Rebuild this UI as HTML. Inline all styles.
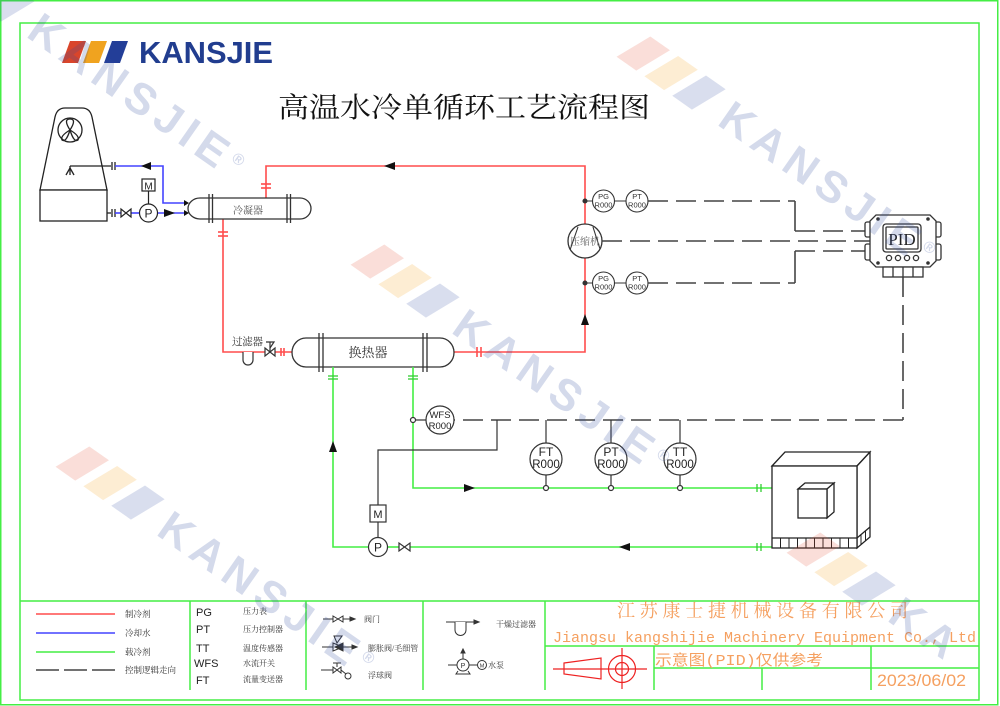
<!DOCTYPE html>
<html><head><meta charset="utf-8"><style>
html,body{margin:0;padding:0;background:#fff;width:1000px;height:706px;overflow:hidden;}
svg{display:block;overflow:hidden;}
</style></head><body>
<svg width="1000" height="706" viewBox="0 0 1000 706" xmlns="http://www.w3.org/2000/svg" overflow="hidden">
<defs><clipPath id="pg"><rect x="0" y="0" width="1000" height="706"/></clipPath></defs>
<rect width="1000" height="706" fill="#fff"/>
<g clip-path="url(#pg)">

<!-- borders -->
<rect x="0.75" y="0.75" width="997" height="704" fill="none" stroke="#44ee44" stroke-width="1.5"/>
<rect x="20" y="23" width="959" height="677" fill="none" stroke="#44ee44" stroke-width="1.5"/>
<g stroke="#44ee44" stroke-width="1.5" fill="none">
<line x1="20" y1="601" x2="979" y2="601"/>
<line x1="190" y1="601" x2="190" y2="690"/>
<line x1="306" y1="601" x2="306" y2="690"/>
<line x1="423" y1="601" x2="423" y2="690"/>
<line x1="545" y1="601" x2="545" y2="690"/>
<line x1="545" y1="646" x2="979" y2="646"/>
<line x1="654" y1="668" x2="979" y2="668"/>
<line x1="654" y1="646" x2="654" y2="690"/>
<line x1="762" y1="668" x2="762" y2="690"/>
<line x1="871" y1="646" x2="871" y2="690"/>
</g>

<!-- logo -->
<polygon points="70,41 86,41 78,63 62,63" fill="#d9452b"/>
<polygon points="91,41 107,41 99,63 83,63" fill="#f0a31f"/>
<polygon points="112,41 128,41 120,63 104,63" fill="#233e98"/>
<text x="139" y="63" font-family="Liberation Sans, sans-serif" font-weight="bold" font-size="31" fill="#213d8f" textLength="134" lengthAdjust="spacingAndGlyphs">KANSJIE</text>

<!-- title -->
<text x="278" y="117" font-family="Liberation Serif, 'Noto Serif CJK SC', serif" font-size="28" fill="#111" textLength="372" lengthAdjust="spacingAndGlyphs">高温水冷单循环工艺流程图</text>

<!-- cooling tower -->
<g stroke="#222" stroke-width="1.3" fill="none">
<path d="M40,190 L55,117 Q57,108 65,108 L82,108 Q90,108 92,117 L107,190 Z" fill="#fff"/>
<rect x="40" y="190" width="67" height="31" fill="#fff"/>
<circle cx="70" cy="130" r="12"/>
<path d="M70,130 Q63,119 70,119 Q77,119 70,130 Z"/>
<path d="M70,130 Q60,136 62,140 Q66,143 70,130 Z"/>
<path d="M70,130 Q80,136 78,140 Q74,143 70,130 Z"/>
<line x1="70" y1="166" x2="111" y2="166"/>
<line x1="70" y1="166" x2="70" y2="175"/>
<line x1="70" y1="168" x2="66" y2="175"/>
<line x1="70" y1="168" x2="74" y2="175"/>
<line x1="107" y1="213" x2="111" y2="213"/>
<line x1="112" y1="162" x2="112" y2="170"/>
<line x1="115" y1="162" x2="115" y2="170"/>
<line x1="112" y1="209" x2="112" y2="217"/>
<line x1="115" y1="209" x2="115" y2="217"/>
</g>

<!-- blue lines -->
<g stroke="#4444ff" stroke-width="1.6" fill="none">
<path d="M115,166 H163 V203 H186"/>
<path d="M115,213 H121"/>
<path d="M131,213 H139"/>
<path d="M157,213 H186"/>
</g>
<polygon points="141,166 151,162 151,170" fill="#111"/>
<polygon points="175,213 164,209 164,217" fill="#111"/>
<polygon points="189,203 184,200 184,206" fill="#111"/>
<polygon points="189,213 184,210 184,216" fill="#111"/>
<g stroke="#222" stroke-width="1.2" fill="none">
<polygon points="121,209 121,217 131,209 131,217"/>
<rect x="142" y="179" width="13" height="12" fill="#fff"/>
<line x1="148.5" y1="191" x2="148.5" y2="204"/>
<circle cx="148.5" cy="213" r="9" fill="#fff"/>
</g>
<text x="148.5" y="217.5" font-family="Liberation Sans, sans-serif" font-size="12" text-anchor="middle" fill="#222">P</text>
<text x="148.5" y="189.5" font-family="Liberation Sans, sans-serif" font-size="10" text-anchor="middle" fill="#222">M</text>

<!-- red lines -->
<g stroke="#ff4d4d" stroke-width="1.6" fill="none">
<path d="M266,198 V166 H585 V352 H454"/>
<path d="M223,219 V352 H292"/>
<line x1="261" y1="184" x2="271" y2="184"/>
<line x1="261" y1="188" x2="271" y2="188"/>
<line x1="218" y1="232" x2="228" y2="232"/>
<line x1="218" y1="236" x2="228" y2="236"/>
<line x1="477" y1="347" x2="477" y2="357"/>
<line x1="481" y1="347" x2="481" y2="357"/>
<line x1="281" y1="348" x2="281" y2="356"/>
<line x1="284" y1="348" x2="284" y2="356"/>
</g>
<polygon points="384,166 395,162 395,170" fill="#111"/>
<polygon points="585,314 581,325 589,325" fill="#111"/>

<!-- condenser -->
<g stroke="#333" stroke-width="1.3" fill="#fff">
<path d="M200,198 H300 A11,10.5 0 0 1 300,219 H200 A12,10.5 0 0 1 200,198 Z"/>
<line x1="209" y1="194" x2="209" y2="223"/>
<line x1="212.5" y1="194" x2="212.5" y2="223"/>
<line x1="287" y1="194" x2="287" y2="223"/>
<line x1="290.5" y1="194" x2="290.5" y2="223"/>
</g>
<text x="248" y="214" font-family="Liberation Serif, 'Noto Serif CJK SC', serif" font-size="10" text-anchor="middle" fill="#555">冷凝器</text>

<!-- heat exchanger -->
<g stroke="#333" stroke-width="1.3" fill="#fff">
<path d="M306,338 H440 A14,14.5 0 0 1 440,367 H306 A14,14.5 0 0 1 306,338 Z"/>
<line x1="319" y1="333" x2="319" y2="372"/>
<line x1="323" y1="333" x2="323" y2="372"/>
<line x1="423" y1="333" x2="423" y2="372"/>
<line x1="427" y1="333" x2="427" y2="372"/>
</g>
<text x="368" y="357" font-family="Liberation Serif, 'Noto Serif CJK SC', serif" font-size="13" text-anchor="middle" fill="#333">换热器</text>

<!-- filter & valve -->
<g stroke="#333" stroke-width="1.2" fill="#fff">
<path d="M243,352 V360 A5,5 0 0 0 253,360 V352"/>
<polygon points="265,348 265,356 275,348 275,356"/>
<line x1="270" y1="352" x2="270" y2="342"/>
<path d="M266,342 L274,342 L270,348" fill="none"/>
</g>
<text x="232" y="345" font-family="Liberation Serif, 'Noto Serif CJK SC', serif" font-size="10.5" fill="#333" textLength="31">过滤器</text>

<!-- compressor -->
<circle cx="585" cy="241" r="17" fill="#fff" stroke="#333" stroke-width="1.3"/>
<line x1="570" y1="250" x2="578" y2="227" stroke="#333" stroke-width="1.1"/>
<line x1="593" y1="227" x2="600" y2="249" stroke="#333" stroke-width="1.1"/>
<text x="585" y="245" font-family="Liberation Serif, 'Noto Serif CJK SC', serif" font-size="10" text-anchor="middle" fill="#666">压缩机</text>

<!-- PG/PT at compressor -->
<g stroke="#333" stroke-width="1.1" fill="#fff">
<line x1="585" y1="201" x2="626" y2="201"/>
<line x1="585" y1="283" x2="626" y2="283"/>
<circle cx="585" cy="201" r="2" fill="#333"/>
<circle cx="585" cy="283" r="2" fill="#333"/>
<circle cx="603.5" cy="201" r="11"/>
<circle cx="637" cy="201" r="11"/>
<circle cx="603.5" cy="283" r="11"/>
<circle cx="637" cy="283" r="11"/>
</g>
<g font-family="Liberation Sans, sans-serif" font-size="7.5" text-anchor="middle" fill="#333">
<text x="603.5" y="199">PG</text><text x="603.5" y="207.5">R000</text>
<text x="637" y="199">PT</text><text x="637" y="207.5">R000</text>
<text x="603.5" y="281">PG</text><text x="603.5" y="289.5">R000</text>
<text x="637" y="281">PT</text><text x="637" y="289.5">R000</text>
</g>

<!-- dashed control lines -->
<g stroke="#444" stroke-width="1.6" fill="none" stroke-dasharray="20 8">
<path d="M648,201 H795"/>
<path d="M795,231 H870"/>
<path d="M602,241 H870"/>
<path d="M648,283 H795"/>
<path d="M795,251 H870"/>
<path d="M903,277 V420"/>
<path d="M903,420 H454"/>
</g>
<g stroke="#444" stroke-width="1.6" fill="none">
<line x1="795" y1="201" x2="795" y2="231"/>
<line x1="795" y1="283" x2="795" y2="251"/>
</g>

<!-- PID controller -->
<g stroke="#333" stroke-width="1.3" fill="#fff">
<rect x="865" y="222" width="6" height="15" rx="2"/>
<rect x="865" y="244" width="6" height="16" rx="2"/>
<rect x="935" y="222" width="6" height="15" rx="2"/>
<rect x="935" y="244" width="6" height="16" rx="2"/>
<polygon points="876,215 930,215 936,221 936,261 930,267 876,267 870,261 870,221"/>
<rect x="883" y="224" width="38" height="28" rx="3"/>
<rect x="886" y="227" width="32" height="22" rx="1" fill="none"/>
<rect x="883" y="267" width="40" height="10"/>
<line x1="893" y1="267" x2="893" y2="277"/>
<line x1="903" y1="267" x2="903" y2="277"/>
<line x1="913" y1="267" x2="913" y2="277"/>
<circle cx="889" cy="258" r="2.6"/>
<circle cx="898" cy="258" r="2.6"/>
<circle cx="907" cy="258" r="2.6"/>
<circle cx="916" cy="258" r="2.6"/>
</g>
<g fill="#333">
<circle cx="878" cy="219" r="1.8"/><circle cx="928" cy="219" r="1.8"/>
<circle cx="878" cy="263" r="1.8"/><circle cx="928" cy="263" r="1.8"/>
</g>
<text x="902" y="245" font-family="Liberation Serif, serif" font-size="17" text-anchor="middle" fill="#222">PID</text>

<!-- green lines -->
<g stroke="#44ee44" stroke-width="1.6" fill="none">
<path d="M333,367 V547 H368"/>
<path d="M388,547 H399"/>
<path d="M410,547 H772"/>
<path d="M413,367 V488 H772"/>
</g>
<g stroke="#33cc33" stroke-width="1.3">
<line x1="328" y1="376" x2="338" y2="376"/><line x1="328" y1="379" x2="338" y2="379"/>
<line x1="408" y1="376" x2="418" y2="376"/><line x1="408" y1="379" x2="418" y2="379"/>
<line x1="757" y1="484" x2="757" y2="492"/><line x1="761" y1="484" x2="761" y2="492"/>
<line x1="757" y1="543" x2="757" y2="551"/><line x1="761" y1="543" x2="761" y2="551"/>
</g>
<polygon points="333,441 329,452 337,452" fill="#111"/>
<polygon points="475,488 464,484 464,492" fill="#111"/>
<polygon points="619,547 630,543 630,551" fill="#111"/>

<!-- bottom instruments -->
<g stroke="#333" stroke-width="1.2" fill="#fff">
<line x1="413" y1="420" x2="426" y2="420"/>
<circle cx="413" cy="420" r="2.5"/>
<circle cx="440" cy="420" r="14"/>
<path d="M378,505 V450 H497 V420" fill="none"/>
<line x1="546" y1="420" x2="546" y2="443"/>
<line x1="611" y1="420" x2="611" y2="443"/>
<line x1="680" y1="420" x2="680" y2="443"/>
<line x1="546" y1="475" x2="546" y2="486"/>
<line x1="611" y1="475" x2="611" y2="486"/>
<line x1="680" y1="475" x2="680" y2="486"/>
<circle cx="546" cy="459" r="16"/>
<circle cx="611" cy="459" r="16"/>
<circle cx="680" cy="459" r="16"/>
<circle cx="546" cy="488" r="2.5"/>
<circle cx="611" cy="488" r="2.5"/>
<circle cx="680" cy="488" r="2.5"/>
<rect x="370" y="505" width="16" height="17"/>
<line x1="378" y1="522" x2="378" y2="537"/>
<circle cx="378" cy="547" r="9.5"/>
<polygon points="399,543 399,551 410,543 410,551"/>
</g>
<g font-family="Liberation Sans, sans-serif" text-anchor="middle" fill="#222">
<text x="440" y="418" font-size="9.5">WFS</text><text x="440" y="429" font-size="9.5">R000</text>
<text x="546" y="456" font-size="12">FT</text><text x="546" y="468" font-size="11.5">R000</text>
<text x="611" y="456" font-size="12">PT</text><text x="611" y="468" font-size="11.5">R000</text>
<text x="680" y="456" font-size="12">TT</text><text x="680" y="468" font-size="11.5">R000</text>
<text x="378" y="518" font-size="11">M</text>
<text x="378" y="551.5" font-size="12">P</text>
</g>

<!-- load box -->
<g stroke="#222" stroke-width="1.3" fill="#fff">
<polygon points="772,466 785,452 870,452 857,466"/>
<polygon points="857,466 870,452 870,537 857,548"/>
<rect x="772" y="466" width="85" height="82"/>
<line x1="772" y1="538" x2="857" y2="538"/>
<line x1="857" y1="538" x2="870" y2="527"/>
<polygon points="798,489 805,483 834,483 827,489"/>
<polygon points="827,489 834,483 834,512 827,518"/>
<rect x="798" y="489" width="29" height="29"/>
</g>
<g stroke="#222" stroke-width="1">
<line x1="780.5" y1="538" x2="780.5" y2="548"/><line x1="789" y1="538" x2="789" y2="548"/>
<line x1="797.5" y1="538" x2="797.5" y2="548"/><line x1="806" y1="538" x2="806" y2="548"/>
<line x1="814.5" y1="538" x2="814.5" y2="548"/><line x1="823" y1="538" x2="823" y2="548"/>
<line x1="831.5" y1="538" x2="831.5" y2="548"/><line x1="840" y1="538" x2="840" y2="548"/>
<line x1="848.5" y1="538" x2="848.5" y2="548"/>
<line x1="861" y1="534.5" x2="861" y2="544.5"/><line x1="865.5" y1="531" x2="865.5" y2="541"/>
</g>

<!-- legend col 1 -->
<line x1="36" y1="614" x2="115" y2="614" stroke="#ff4d4d" stroke-width="1.6"/>
<line x1="36" y1="633" x2="115" y2="633" stroke="#4444ff" stroke-width="1.6"/>
<line x1="36" y1="652" x2="115" y2="652" stroke="#44ee44" stroke-width="1.6"/>
<g stroke="#444" stroke-width="1.6"><line x1="36" y1="670" x2="59" y2="670"/><line x1="64" y1="670" x2="87" y2="670"/><line x1="92" y1="670" x2="115" y2="670"/></g>
<g font-family="Liberation Serif, 'Noto Serif CJK SC', serif" font-size="8.5" fill="#333">
<text x="125" y="617">制冷剂</text>
<text x="125" y="636">冷却水</text>
<text x="125" y="655">载冷剂</text>
<text x="125" y="673">控制逻辑走向</text>
</g>
<!-- legend col 2 -->
<g font-family="Liberation Sans, sans-serif" font-size="11" fill="#222">
<text x="196" y="616">PG</text>
<text x="196" y="633">PT</text>
<text x="196" y="652">TT</text>
<text x="194" y="667">WFS</text>
<text x="196" y="684">FT</text>
</g>
<g font-family="Liberation Serif, 'Noto Serif CJK SC', serif" font-size="8" fill="#333">
<text x="243" y="614">压力表</text>
<text x="243" y="632">压力控制器</text>
<text x="243" y="651">温度传感器</text>
<text x="243" y="666">水流开关</text>
<text x="243" y="682">流量变送器</text>
</g>
<!-- legend col 3 -->
<g stroke="#333" stroke-width="1" fill="#fff">
<line x1="323" y1="619" x2="352" y2="619"/>
<polygon points="333,616 333,622 343,616 343,622"/>
<polygon points="355,619 350,617 350,621" fill="#333"/>
<line x1="322" y1="647" x2="354" y2="647"/>
<polygon points="333,643 333,651 343,647"/>
<polygon points="343,643 343,651 335,647" fill="#333"/>
<path d="M337,643 L342,636 L334,636 Z"/>
<polygon points="357,647 352,645 352,649" fill="#333"/>
<line x1="321" y1="670" x2="333" y2="670"/>
<polygon points="333,667 333,673 341,667 341,673"/>
<line x1="337" y1="667" x2="337" y2="663"/>
<line x1="333" y1="663" x2="341" y2="663"/>
<line x1="341" y1="670" x2="346" y2="674"/>
<circle cx="348" cy="676" r="3"/>
</g>
<g font-family="Liberation Serif, 'Noto Serif CJK SC', serif" font-size="8" fill="#333">
<text x="364" y="622">阀门</text>
<text x="368" y="651">膨胀阀/毛细管</text>
<text x="368" y="678">浮球阀</text>
</g>
<!-- legend col 4 -->
<g stroke="#333" stroke-width="1" fill="#fff">
<line x1="446" y1="622" x2="476" y2="622"/>
<path d="M455,622 V630 A5.5,5.5 0 0 0 466,630 V622"/>
<polygon points="479,622 474,620 474,624" fill="#333"/>
<line x1="448" y1="665" x2="457" y2="665"/>
<circle cx="463" cy="665" r="6"/>
<path d="M458,671 L456,674 H470 L468,671" fill="none"/>
<line x1="463" y1="659" x2="463" y2="652"/>
<polygon points="463,649 461,653 465,653" fill="#333"/>
<line x1="469" y1="665" x2="478" y2="665"/>
<circle cx="482" cy="665" r="4.5"/>
</g>
<text x="463" y="668" font-family="Liberation Sans, sans-serif" font-size="7" text-anchor="middle" fill="#333">P</text>
<text x="482" y="667.5" font-family="Liberation Sans, sans-serif" font-size="5.5" text-anchor="middle" fill="#333">M</text>
<g font-family="Liberation Serif, 'Noto Serif CJK SC', serif" font-size="8" fill="#333">
<text x="496" y="627">干燥过滤器</text>
<text x="488" y="668">水泵</text>
</g>

<!-- title block -->
<text x="617" y="617" font-family="Liberation Serif, 'Noto Serif CJK SC', serif" font-size="18" fill="#f5a060" textLength="291" lengthAdjust="spacing">江苏康士捷机械设备有限公司</text>
<text x="553" y="642" font-family="Liberation Mono, monospace" font-size="15" fill="#f5a060" textLength="423" lengthAdjust="spacingAndGlyphs">Jiangsu kangshijie Machinery Equipment Co., Ltd</text>
<text x="655" y="665" font-family="Liberation Mono, 'Noto Sans CJK SC', monospace" font-size="15" fill="#f5a060" textLength="168" lengthAdjust="spacingAndGlyphs">示意图(PID)仅供参考</text>
<text x="877" y="686" font-family="Liberation Sans, sans-serif" font-size="17" fill="#f5a060" textLength="89" lengthAdjust="spacingAndGlyphs">2023/06/02</text>
<g stroke="#ee2222" stroke-width="1.2" fill="none">
<line x1="553" y1="669" x2="608" y2="669"/>
<path d="M564,663 L601,658 L601,679 L564,674 Z"/>
<circle cx="622" cy="669" r="13.5"/>
<circle cx="622" cy="669" r="6.5"/>
<line x1="622" y1="648" x2="622" y2="689"/>
<line x1="608" y1="669" x2="647" y2="669"/>
</g>

<!-- watermarks -->
<g font-family="Liberation Sans, sans-serif" font-weight="bold">
<g transform="translate(25,36) rotate(35)">
<polygon points="-120,2 -96,2 -80,-34 -104,-34" fill="#e24a2a" opacity="0.18"/>
<polygon points="-86,2 -62,2 -46,-34 -70,-34" fill="#f5a623" opacity="0.2"/>
<polygon points="-52,2 -28,2 -12,-34 -36,-34" fill="#2f4a9e" opacity="0.18"/>
<text x="0" y="0" font-size="44" letter-spacing="7" fill="#2f4a9e" opacity="0.2">KANSJIE<tspan font-size="16" dy="-16">®</tspan></text>
</g>
<g transform="translate(716,124) rotate(35)">
<polygon points="-120,2 -96,2 -80,-34 -104,-34" fill="#e24a2a" opacity="0.18"/>
<polygon points="-86,2 -62,2 -46,-34 -70,-34" fill="#f5a623" opacity="0.2"/>
<polygon points="-52,2 -28,2 -12,-34 -36,-34" fill="#2f4a9e" opacity="0.18"/>
<text x="0" y="0" font-size="44" letter-spacing="7" fill="#2f4a9e" opacity="0.2">KANSJIE<tspan font-size="16" dy="-16">®</tspan></text>
</g>
<g transform="translate(450,332) rotate(35)">
<polygon points="-120,2 -96,2 -80,-34 -104,-34" fill="#e24a2a" opacity="0.18"/>
<polygon points="-86,2 -62,2 -46,-34 -70,-34" fill="#f5a623" opacity="0.2"/>
<polygon points="-52,2 -28,2 -12,-34 -36,-34" fill="#2f4a9e" opacity="0.18"/>
<text x="0" y="0" font-size="44" letter-spacing="7" fill="#2f4a9e" opacity="0.2">KANSJIE<tspan font-size="16" dy="-16">®</tspan></text>
</g>
<g transform="translate(155,534) rotate(35)">
<polygon points="-120,2 -96,2 -80,-34 -104,-34" fill="#e24a2a" opacity="0.18"/>
<polygon points="-86,2 -62,2 -46,-34 -70,-34" fill="#f5a623" opacity="0.2"/>
<polygon points="-52,2 -28,2 -12,-34 -36,-34" fill="#2f4a9e" opacity="0.18"/>
<text x="0" y="0" font-size="44" letter-spacing="7" fill="#2f4a9e" opacity="0.2">KANSJIE<tspan font-size="16" dy="-16">®</tspan></text>
</g>
<g transform="translate(886,620) rotate(35)">
<polygon points="-120,2 -96,2 -80,-34 -104,-34" fill="#e24a2a" opacity="0.18"/>
<polygon points="-86,2 -62,2 -46,-34 -70,-34" fill="#f5a623" opacity="0.2"/>
<polygon points="-52,2 -28,2 -12,-34 -36,-34" fill="#2f4a9e" opacity="0.18"/>
<text x="0" y="0" font-size="44" letter-spacing="7" fill="#2f4a9e" opacity="0.2">KA</text>
</g>
</g>
</g>
</svg>
</body></html>
